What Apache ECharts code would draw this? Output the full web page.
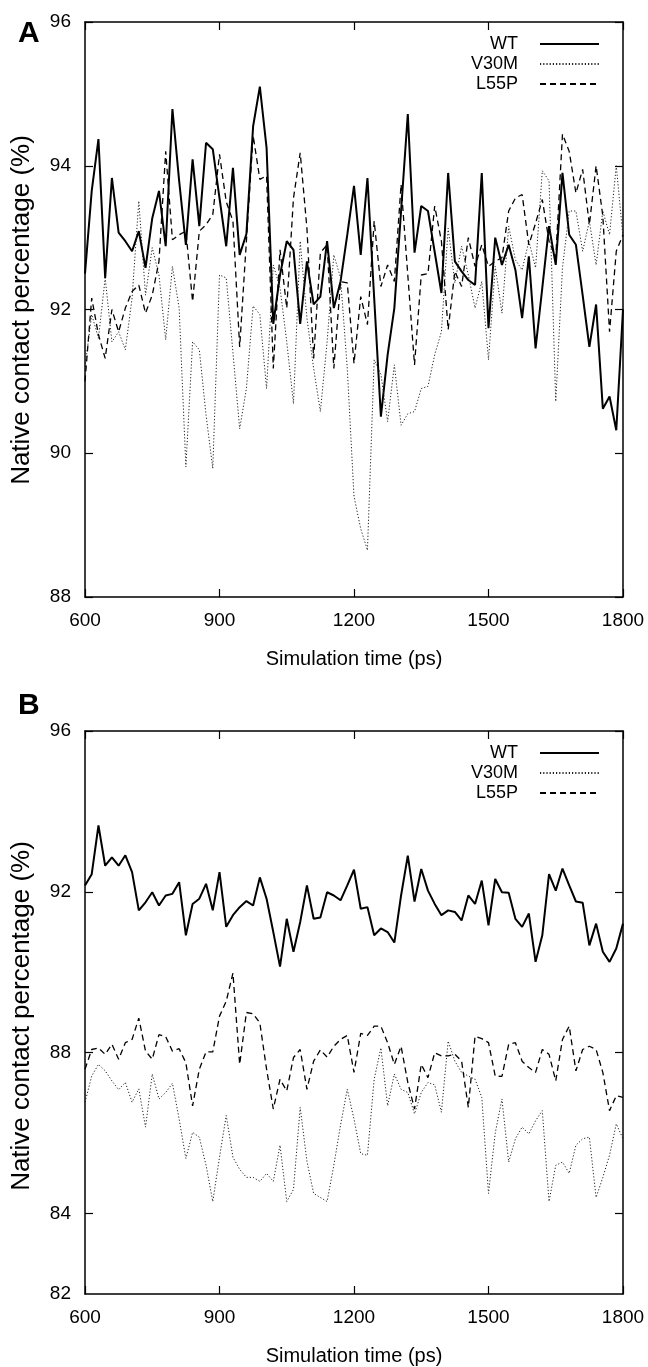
<!DOCTYPE html>
<html><head><meta charset="utf-8">
<script src="https://cdn.jsdelivr.net/npm/echarts@6/dist/echarts.min.js"></script>
<style>html,body{margin:0;padding:0;background:#fff}#c{width:648px;height:1367px}</style>
</head><body><div id="c"></div>
<script>
const times = [600,615,630,645,660,675,690,705,720,735,750,765,780,795,810,825,840,855,870,885,900,915,930,945,960,975,990,1005,1020,1035,1050,1065,1080,1095,1110,1125,1140,1155,1170,1185,1200,1215,1230,1245,1260,1275,1290,1305,1320,1335,1350,1365,1380,1395,1410,1425,1440,1455,1470,1485,1500,1515,1530,1545,1560,1575,1590,1605,1620,1635,1650,1665,1680,1695,1710,1725,1740,1755,1770,1785,1800];
const seriesNames = ['WT', 'V30M', 'L55P'];
const yAxisTitle = 'Native contact percentage (%)';
const xAxisTitle = 'Simulation time (ps)';

const A_WT = [92.5,93.65,94.37,92.44,93.83,93.07,92.95,92.81,93.09,92.58,93.27,93.65,92.88,94.79,93.79,92.9,94.09,93.16,94.32,94.23,93.55,92.88,93.97,92.76,93.05,94.55,95.1,94.25,91.8,92.48,92.95,92.83,91.8,92.67,92.07,92.18,92.95,92.02,92.39,93.04,93.72,92.76,93.83,92.16,90.51,91.37,92.02,93.37,94.72,92.79,93.44,93.37,92.8,92.23,93.9,92.67,92.53,92.41,92.34,93.9,91.74,93.0,92.62,92.9,92.55,91.88,92.74,91.46,92.3,93.16,92.62,93.9,93.04,92.9,92.2,91.48,92.07,90.62,90.79,90.32,92.0];
const A_V30M = [91.2,91.93,91.6,92.44,91.55,91.69,91.44,92.16,93.51,92.2,92.86,92.48,91.58,92.6,92.02,89.81,91.55,91.44,90.53,89.79,92.48,92.44,91.4,90.34,90.9,92.05,91.93,90.9,92.62,92.3,91.55,90.69,92.95,91.88,91.18,90.58,91.55,92.76,92.44,91.18,89.4,88.95,88.65,91.3,91.1,90.44,91.23,90.39,90.55,90.58,90.9,90.93,91.37,91.69,93.13,92.37,92.88,92.48,92.02,92.39,91.3,92.6,91.95,93.16,92.69,92.55,92.95,92.58,93.93,93.79,90.72,92.58,93.37,93.37,92.81,93.23,92.62,93.37,93.04,94.0,93.0];
const A_L55P = [91.0,92.16,91.65,91.32,92.0,91.69,92.02,92.25,92.34,91.95,92.2,92.67,94.2,92.97,93.04,93.09,92.11,93.09,93.18,93.32,94.16,93.5,93.23,91.48,92.95,94.42,93.81,93.86,91.18,92.83,92.02,93.55,94.18,93.13,91.32,92.79,92.9,91.18,92.39,92.37,91.25,92.18,91.79,93.23,92.32,92.62,92.39,93.74,92.48,91.23,92.48,92.5,93.44,92.95,91.72,92.53,92.32,93.0,92.6,92.9,92.6,92.67,92.72,93.37,93.55,93.6,92.9,93.2,93.53,92.95,92.72,94.44,94.2,93.62,93.95,93.18,94.0,93.3,91.69,92.81,93.04];

const B_WT = [92.16,92.44,93.65,92.65,92.86,92.65,92.91,92.49,91.54,91.74,91.99,91.66,91.91,91.95,92.24,90.92,91.7,91.83,92.2,91.54,92.49,91.13,91.42,91.62,91.77,91.66,92.36,91.83,91.0,90.14,91.33,90.51,91.25,92.16,91.33,91.36,91.99,91.91,91.79,92.16,92.55,91.58,91.62,90.92,91.09,91.0,90.74,91.91,92.9,91.76,92.57,92.03,91.7,91.42,91.54,91.5,91.29,91.91,91.7,92.28,91.17,92.32,91.99,91.98,91.33,91.13,91.46,90.26,90.92,92.44,92.03,92.58,92.16,91.76,91.73,90.67,91.21,90.51,90.26,90.59,91.21];
const B_V30M = [86.77,87.42,87.71,87.55,87.3,87.08,87.26,86.77,87.1,86.15,87.47,86.85,87.01,87.24,86.35,85.37,86.02,85.9,85.2,84.3,85.4,86.44,85.4,85.1,84.9,84.9,84.8,85.0,84.8,85.7,84.3,84.6,86.64,85.3,84.5,84.4,84.3,85.2,86.2,87.09,86.35,85.49,85.45,87.34,88.12,86.68,87.47,87.09,87.01,86.48,87.01,87.26,87.2,86.52,88.29,87.79,87.51,87.42,87.34,86.89,84.5,86.0,86.85,85.28,85.86,86.15,85.98,86.31,86.56,84.3,85.2,85.28,85.0,85.7,85.86,85.9,84.4,84.9,85.45,86.23,85.86];
const B_L55P = [87.59,88.08,88.12,87.96,88.21,87.84,88.25,88.33,88.86,88.04,87.84,88.45,88.4,88.04,88.1,87.75,86.68,87.59,88.02,88.02,88.91,89.28,89.98,87.71,89.0,88.97,88.74,87.59,86.6,87.34,87.05,87.88,88.08,87.09,87.79,88.07,87.89,88.16,88.33,88.43,87.51,88.48,88.43,88.66,88.66,88.25,87.71,88.16,87.26,86.6,87.71,87.38,88.0,87.92,87.92,87.96,87.79,86.64,88.41,88.35,88.25,87.42,87.41,88.21,88.25,87.79,87.63,87.51,88.08,87.96,87.3,88.33,88.66,87.55,88.08,88.16,88.08,87.51,86.56,86.93,86.89];

const B_yLabels = [82, 84, 88, 92, 96];
const B_yTicks = [84, 88, 92, 96];

const FONT = 'Liberation Sans';
const pair = arr => arr.map((v, i) => [times[i], v]);
const styles = {
  WT: { color: '#000', width: 2, type: 'solid' },
  V30M: { color: '#222', width: 1, type: [1.2, 2] },
  L55P: { color: '#000', width: 1.3, type: [6, 4] }
};

function xAxes(gridIndex) {
  const common = {
    type: 'value', gridIndex, min: 600, max: 1800, interval: 300,
    axisLine: { show: true, onZero: false, lineStyle: { color: '#000', width: 1.5 } },
    axisTick: { show: true, inside: true, length: 8, lineStyle: { color: '#000', width: 1.2 } },
    splitLine: { show: false }
  };
  return [
    Object.assign({}, common, {
      position: 'bottom',
      axisLabel: { show: true, color: '#000', fontSize: 19, fontFamily: FONT, margin: 14, formatter: v => String(v) },
      name: xAxisTitle, nameLocation: 'middle', nameGap: 52,
      nameTextStyle: { color: '#000', fontSize: 20, fontFamily: FONT }
    }),
    Object.assign({}, common, { position: 'top', axisLabel: { show: false } })
  ];
}

function yAxes(gridIndex, min, max, interval, labelVals, tickVals) {
  const common = {
    type: 'value', gridIndex, min, max, interval,
    axisLine: { show: true, onZero: false, lineStyle: { color: '#000', width: 1.5 } },
    axisTick: { show: true, inside: true, length: 8, lineStyle: { color: '#000', width: 1.2 } },
    splitLine: { show: false }
  };
  const left = Object.assign({}, common, {
    position: 'left',
    axisLabel: { show: true, color: '#000', fontSize: 19, fontFamily: FONT, margin: 14, formatter: v => String(v) }
  });
  const right = Object.assign({}, common, { position: 'right', axisLabel: { show: false } });
  if (labelVals) {
    left.axisLabel.customValues = labelVals;
    left.axisTick = Object.assign({}, common.axisTick, { customValues: tickVals });
    right.axisTick = Object.assign({}, common.axisTick, { customValues: tickVals });
  }
  return [left, right];
}

function mkSeries(name, arr, xi, yi) {
  const s = styles[name];
  return {
    name, type: 'line', data: pair(arr), xAxisIndex: xi, yAxisIndex: yi,
    symbol: 'none', showSymbol: false, silent: true, animation: false,
    lineStyle: { color: s.color, width: s.width, type: s.type },
    itemStyle: { color: s.color }
  };
}

function legend(top) {
  return {
    orient: 'vertical', right: 48, top, align: 'right', padding: 0,
    itemWidth: 59, itemHeight: 14, itemGap: 2,
    data: seriesNames,
    selectedMode: false,
    itemStyle: { opacity: 0, borderWidth: 0 },
    textStyle: { color: '#000', fontSize: 18, fontFamily: FONT, padding: [0, 17, 0, 0] }
  };
}

function yTitle(cy) {
  return {
    type: 'text', x: 22, y: cy, rotation: Math.PI / 2, silent: true,
    style: { text: yAxisTitle, fill: '#000', fontSize: 26, fontFamily: FONT, align: 'center', verticalAlign: 'middle' }
  };
}

const chart = echarts.init(document.getElementById('c'), null, { renderer: 'canvas' });
chart.setOption({
  animation: false,
  backgroundColor: '#fff',
  title: [
    { text: 'A', left: 13, top: 14, textStyle: { fontSize: 30, fontWeight: 'bold', color: '#000', fontFamily: FONT } },
    { text: 'B', left: 13, top: 686, textStyle: { fontSize: 30, fontWeight: 'bold', color: '#000', fontFamily: FONT } }
  ],
  grid: [
    { left: 85, right: 25, top: 22, height: 575 },
    { left: 85, right: 25, top: 731, height: 571 }
  ],
  xAxis: [...xAxes(0), ...xAxes(1)],
  yAxis: [...yAxes(0, 88, 96, 2), ...yAxes(1, 82, 96, 2, B_yLabels, B_yTicks)],
  legend: [legend(35), legend(744)],
  graphic: [yTitle(310), yTitle(1016)],
  series: [
    mkSeries('WT', A_WT, 0, 0),
    mkSeries('V30M', A_V30M, 0, 0),
    mkSeries('L55P', A_L55P, 0, 0),
    mkSeries('WT', B_WT, 2, 2),
    mkSeries('V30M', B_V30M, 2, 2),
    mkSeries('L55P', B_L55P, 2, 2)
  ]
});
</script></body></html>
